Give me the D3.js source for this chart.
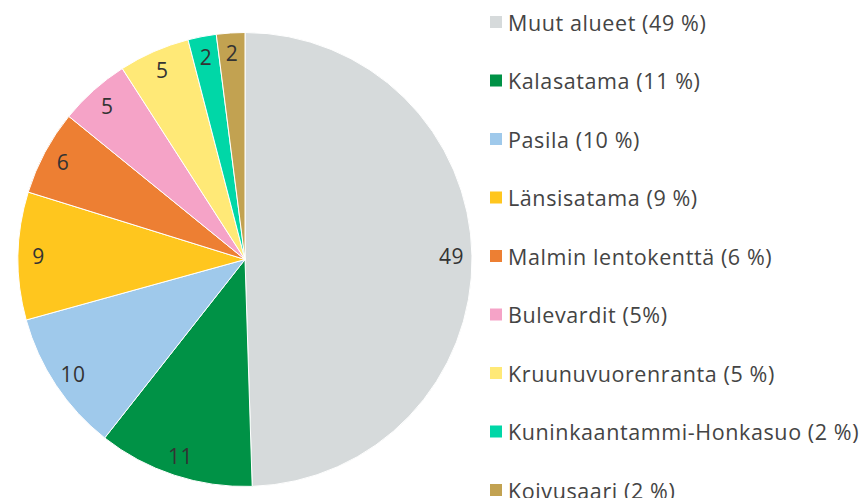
<!DOCTYPE html>
<html><head><meta charset="utf-8">
<script src="https://cdn.jsdelivr.net/npm/d3@7"></script>
<style>body{margin:0;background:#fff}svg{display:block}</style>
</head><body>
<svg id="c" width="861" height="498"></svg>
<script>
const categories = ["Muut alueet","Kalasatama","Pasila","Länsisatama","Malmin lentokenttä","Bulevardit","Kruunuvuorenranta","Kuninkaantammi-Honkasuo","Koivusaari"];
const values = [49,11,10,9,6,5,5,2,2];
const legendLabels = ["Muut alueet (49 %)","Kalasatama (11 %)","Pasila (10 %)","Länsisatama (9 %)","Malmin lentokenttä (6 %)","Bulevardit (5%)","Kruunuvuorenranta (5 %)","Kuninkaantammi-Honkasuo (2 %)","Koivusaari (2 %)"];
const colors = ["#d6dadb","#009246","#9fc9eb","#ffc61e","#ed7f33","#f5a3c7","#ffe977","#00d7a7","#c2a251"];

const svg = d3.select("#c");
const cx = 245, cy = 259.5, r = 227;
const data = categories.map((c,i)=>({c, v:values[i], i}));
const pie = d3.pie().value(d=>d.v).sort(null);
const arcs = pie(data);
const arc = d3.arc().innerRadius(0).outerRadius(r);
const labelArc = d3.arc().innerRadius(r*0.91).outerRadius(r*0.91);
const color = d3.scaleOrdinal().domain(categories).range(colors);
const g = svg.append("g").attr("transform",`translate(${cx},${cy})`);
g.selectAll("path").data(arcs).join("path")
  .attr("d",arc).attr("fill",d=>color(d.data.c))
  .attr("stroke","#fff").attr("stroke-width",1);
g.selectAll("text").data(arcs).join("text")
  .attr("transform",d=>`translate(${labelArc.centroid(d)})`)
  .attr("text-anchor","middle").attr("dominant-baseline","central")
  .attr("font-family","'Open Sans', sans-serif").attr("font-size",21)
  .attr("letter-spacing",0.5)
  .attr("fill","#333")
  .text(d=>d.data.v);

const ly = d3.scalePoint().domain(categories).range([22,490]);
const lg = svg.append("g");
const items = lg.selectAll("g").data(categories).join("g")
  .attr("transform",d=>`translate(490,${ly(d)})`);
items.append("rect").attr("x",0).attr("y",-6).attr("width",12).attr("height",12)
  .attr("fill",d=>color(d));
items.append("text").attr("x",18).attr("y",0).attr("dominant-baseline","central")
  .attr("font-family","'Open Sans', sans-serif").attr("font-size",21.5)
  .attr("letter-spacing",0.6).attr("fill","#444")
  .text((d,i)=>legendLabels[i]);
</script>
</body></html>
